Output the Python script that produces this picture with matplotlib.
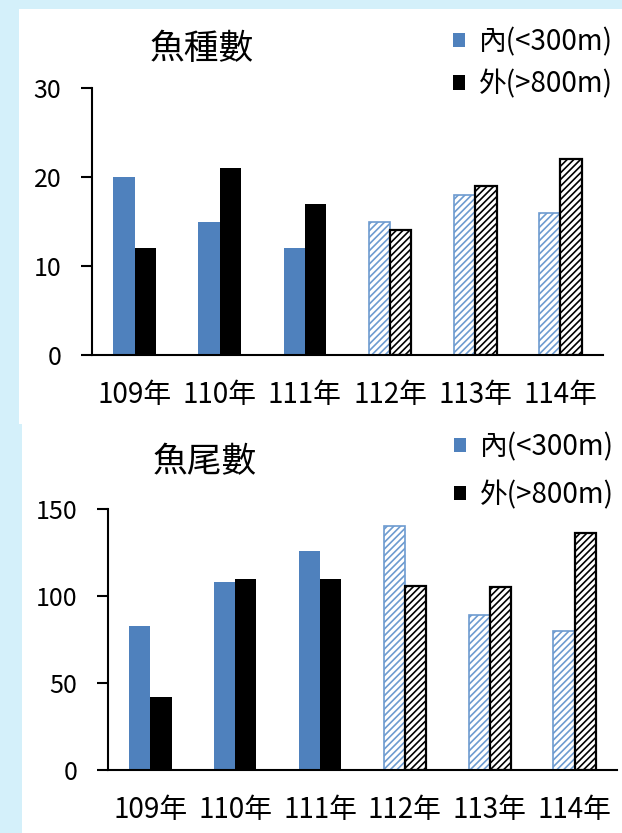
import numpy as np
import matplotlib.pyplot as plt
from matplotlib.patches import Rectangle
plt.rcParams['font.family'] = ['Noto Sans CJK TC', 'DejaVu Sans']
plt.rcParams['hatch.linewidth'] = 1.2

years = ['109年', '110年', '111年', '112年', '113年', '114年']
hatched = [False, False, False, True, True, True]

species_in = [20, 15, 12, 15, 18, 16]
species_out = [12, 21, 17, 14, 19, 22]
count_in = [83, 108, 126, 140, 89, 80]
count_out = [42, 110, 110, 106, 105, 136]

labels = ['內(<300m)', '外(>800m)']
blue = '#4f81bd'
hatch_blue = '#6d9bd0'
bg = '#d4f0fa'

W, H = 622, 833
fig = plt.figure(figsize=(W / 100, H / 100), dpi=100, facecolor=bg)

# white panels behind each chart
fig.patches.append(Rectangle((19 / W, 1 - 424 / H), 1, (424 - 9) / H,
                             transform=fig.transFigure, facecolor='white', edgecolor='none', zorder=-10))
fig.patches.append(Rectangle((22 / W, 0), 1, 1 - 424 / H,
                             transform=fig.transFigure, facecolor='white', edgecolor='none', zorder=-10))


def draw(ax, vin, vout, ymax, yticks, title, title_xy, leg_xy, legsp):
    x = np.arange(len(years))
    w = 0.25
    solid = [i for i, h in enumerate(hatched) if not h]
    hat = [i for i, h in enumerate(hatched) if h]
    vin = np.array(vin)
    vout = np.array(vout)
    ax.bar(x[solid] - w / 2, vin[solid], w, color=blue, label=labels[0])
    ax.bar(x[solid] + w / 2, vout[solid], w, color='black', label=labels[1])
    ax.bar(x[hat] - w / 2, vin[hat], w, facecolor='white', edgecolor=hatch_blue,
           hatch='/////', linewidth=1.2)
    ax.bar(x[hat] + w / 2, vout[hat], w, facecolor='white', edgecolor='black',
           hatch='/////', linewidth=1.6)

    ax.set_xlim(-0.5, len(years) - 0.5)
    ax.set_ylim(0, ymax)
    ax.set_yticks(yticks)
    ax.set_xticks(x)
    ax.set_xticklabels(years, fontsize=20)
    ax.tick_params(axis='x', length=0, pad=18)
    ax.tick_params(axis='y', length=8, width=1.5, pad=14, labelsize=18)
    for s in ['top', 'right']:
        ax.spines[s].set_visible(False)
    for s in ['left', 'bottom']:
        ax.spines[s].set_linewidth(1.5)
    ax.patch.set_alpha(0)

    fig.text(title_xy[0] / W, 1 - title_xy[1] / H, title, fontsize=25,
             ha='center', va='center')
    ax.legend(loc='upper left', bbox_to_anchor=(leg_xy[0] / W, 1 - leg_xy[1] / H),
              bbox_transform=fig.transFigure, frameon=False, fontsize=20,
              handlelength=0.43, handleheight=0.43, handletextpad=0.5,
              labelspacing=legsp, borderpad=0, borderaxespad=0)


ax1 = fig.add_axes([92 / W, 1 - 355 / H, 511 / W, 267 / H])
draw(ax1, species_in, species_out, 30, [0, 10, 20, 30], '魚種數', (202, 50), (453, 27), 0.45)

ax2 = fig.add_axes([108 / W, 1 - 770 / H, 509 / W, 261 / H])
draw(ax2, count_in, count_out, 150, [0, 50, 100, 150], '魚尾數', (205, 463), (454, 432), 0.65)

fig.savefig('out.png', dpi=100, facecolor=bg)
